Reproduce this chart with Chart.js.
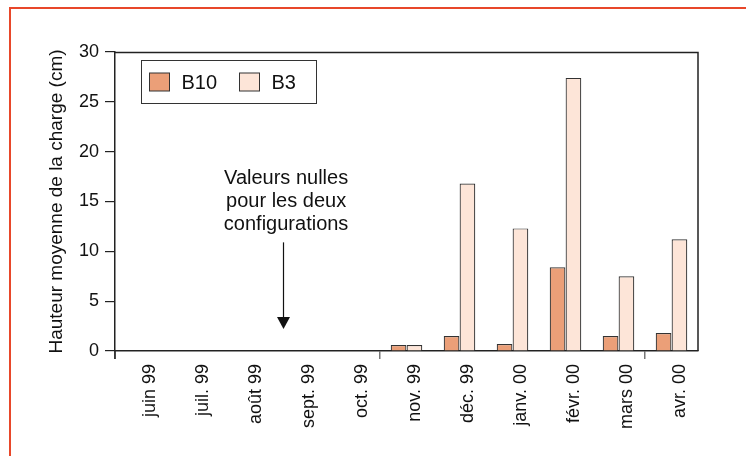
<!DOCTYPE html>
<html><head><meta charset="utf-8">
<script src="https://cdn.jsdelivr.net/npm/chart.js@4"></script>
<style>html,body{margin:0;padding:0;background:#fff}#wrap{position:relative;width:746px;height:456px}</style>
</head><body><div id="wrap"><canvas id="c" width="746" height="456"></canvas></div>
<script>
const categories = ['juin 99','juil. 99','août 99','sept. 99','oct. 99','nov. 99','déc. 99','janv. 00','févr. 00','mars 00','avr. 00'];
const seriesB10 = [0, 0, 0, 0, 0, 0.6, 1.5, 0.7, 8.4, 1.5, 1.8];
const seriesB3  = [0, 0, 0, 0, 0, 0.6, 16.8, 12.3, 27.4, 7.5, 11.2];
const seriesNames = ['B10', 'B3'];
const yTicks = [0, 5, 10, 15, 20, 25, 30];
const xTickMarks = [0, 5, 10];
const yTitle = 'Hauteur moyenne de la charge (cm)';
const noteLines = ['Valeurs nulles', 'pour les deux', 'configurations'];

const FONT = "'Liberation Sans', Arial, Helvetica, sans-serif";
Chart.defaults.font.family = FONT;
Chart.defaults.color = '#111';

const framePlugin = {
  id: 'frame',
  beforeDraw(chart) {
    const ctx = chart.ctx;
    ctx.save();
    ctx.fillStyle = '#fff';
    ctx.fillRect(0, 0, chart.width, chart.height);
    ctx.fillStyle = '#e8472a';
    ctx.fillRect(9, 7, chart.width - 9, 2);
    ctx.fillRect(9, 7, 2, chart.height - 7);
    ctx.restore();
  },
  afterDraw(chart) {
    const ctx = chart.ctx, a = chart.chartArea;
    ctx.save();
    // plot box top and right
    ctx.strokeStyle = '#222';
    ctx.lineWidth = 1.5;
    ctx.beginPath();
    ctx.moveTo(a.left, a.top + 0.5);
    ctx.lineTo(a.right, a.top + 0.5);
    ctx.lineTo(a.right, a.bottom);
    ctx.stroke();
    // y axis line continues down to the first x tick
    ctx.beginPath();
    ctx.moveTo(a.left, a.bottom);
    ctx.lineTo(a.left, a.bottom + 8);
    ctx.stroke();

    // legend
    const lx = a.left + 26.5, ly = a.top + 8.5, lw = 175, lh = 43;
    ctx.lineWidth = 1;
    ctx.strokeStyle = '#333';
    ctx.strokeRect(lx, ly, lw, lh);
    ctx.font = '20px ' + FONT;
    ctx.textBaseline = 'middle';
    ctx.textAlign = 'left';
    const offsets = [0, 90];
    chart.data.datasets.forEach((ds, i) => {
      const bx = lx + 8 + offsets[i], by = ly + 12.5;
      ctx.fillStyle = ds.backgroundColor;
      ctx.fillRect(bx, by, 20, 18);
      ctx.strokeStyle = '#333';
      ctx.strokeRect(bx, by, 20, 18);
      ctx.fillStyle = '#111';
      ctx.fillText(ds.label, bx + 32, by + 10);
    });

    // annotation
    const ys = chart.scales.y;
    const w = a.right - a.left;
    const tx = a.left + w * 0.2935;
    const ax = Math.round(a.left + w * 0.288) + 0.5;
    ctx.font = '20px ' + FONT;
    ctx.textAlign = 'center';
    ctx.textBaseline = 'alphabetic';
    ctx.fillStyle = '#111';
    const base0 = ys.getPixelForValue(16.8);
    noteLines.forEach((t, i) => ctx.fillText(t, tx, base0 + i * 23));
    const y1 = ys.getPixelForValue(10.9), tip = ys.getPixelForValue(2.2);
    ctx.strokeStyle = '#111';
    ctx.lineWidth = 1.2;
    ctx.beginPath();
    ctx.moveTo(ax, y1);
    ctx.lineTo(ax, tip - 10);
    ctx.stroke();
    ctx.beginPath();
    ctx.moveTo(ax - 6.5, tip - 12);
    ctx.lineTo(ax + 6.5, tip - 12);
    ctx.lineTo(ax, tip);
    ctx.closePath();
    ctx.fill();
    ctx.restore();
  }
};

new Chart(document.getElementById('c'), {
  type: 'bar',
  data: {
    labels: categories,
    datasets: [
      { label: seriesNames[0], data: seriesB10, backgroundColor: '#eb9f78', borderColor: '#333', borderWidth: 1.2 },
      { label: seriesNames[1], data: seriesB3, backgroundColor: '#fde5d8', borderColor: '#333', borderWidth: 1.2 }
    ]
  },
  options: {
    responsive: false,
    animation: false,
    devicePixelRatio: 1,
    layout: { padding: { top: 52, right: 48, left: 0, bottom: 0 } },
    datasets: { bar: { categoryPercentage: 0.6, barPercentage: 0.985 } },
    plugins: { legend: { display: false }, tooltip: { enabled: false } },
    scales: {
      x: {
        afterFit(s) { s.height = 105; },
        grid: {
          offset: true, drawOnChartArea: false, drawTicks: true, tickLength: 8,
          color: (c) => (c.index !== undefined && xTickMarks.includes(c.index)) ? '#777' : 'rgba(0,0,0,0)',
          lineWidth: 1.5
        },
        border: { color: '#222', width: 1.5 },
        ticks: { minRotation: 90, maxRotation: 90, autoSkip: false, padding: 5, labelOffset: 9,
                 font: { size: 18 }, color: '#111' }
      },
      y: {
        min: 0, max: 30,
        afterFit(s) { s.width = 115; },
        afterBuildTicks(s) { s.ticks = yTicks.map(v => ({ value: v })); },
        grid: { drawOnChartArea: false, drawTicks: true, tickLength: 10, color: '#222', lineWidth: 1.2 },
        border: { color: '#222', width: 1.5 },
        ticks: { padding: 6, font: { size: 18 }, color: '#111' },
        title: { display: true, text: yTitle, font: { size: 19 }, color: '#111', padding: { top: 45, bottom: 0 } }
      }
    }
  },
  plugins: [framePlugin]
});
</script>
</body></html>
